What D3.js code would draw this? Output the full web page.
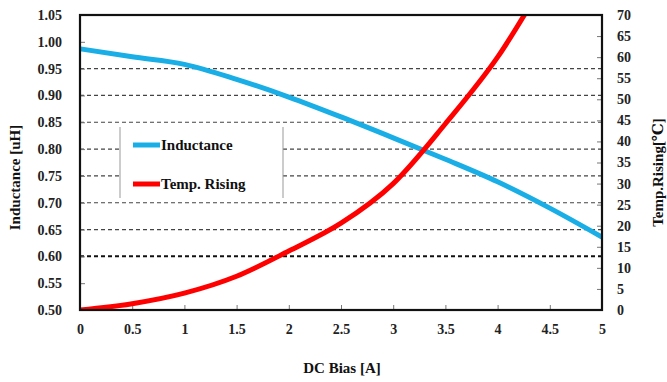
<!DOCTYPE html>
<html>
<head>
<meta charset="utf-8">
<script src="https://cdnjs.cloudflare.com/ajax/libs/d3/7.8.5/d3.min.js"></script>
<style>
  body { margin: 0; background: #fff; }
</style>
</head>
<body>
<div id="chartDiv"></div>
<script>
// data
var dcBias = [0, 0.5, 1, 1.5, 2, 2.5, 3, 3.5, 4, 4.5, 5];
var inductance = [0.987, 0.972, 0.958, 0.930, 0.897, 0.860, 0.821, 0.781, 0.739, 0.690, 0.636];
var tempRising = [0, 1.5, 4.0, 8.0, 14.0, 20.6, 30.0, 44.2, 60.0, 80, 100];
var xTicks = [0, 0.5, 1, 1.5, 2, 2.5, 3, 3.5, 4, 4.5, 5];
var leftTicks = [0.50, 0.55, 0.60, 0.65, 0.70, 0.75, 0.80, 0.85, 0.90, 0.95, 1.00, 1.05];
var rightTicks = [0, 5, 10, 15, 20, 25, 30, 35, 40, 45, 50, 55, 60, 65, 70];
var gridTicks = [0.60, 0.65, 0.70, 0.75, 0.80, 0.85, 0.90, 0.95];
var legendNames = ["Inductance", "Temp. Rising"];
var lineColors = ["#19aee6", "#ff0000"];

var serif = "'Liberation Serif', 'Times New Roman', 'DejaVu Serif', serif";

var svg = d3.select("#chartDiv").append("svg").attr("width", 667).attr("height", 382),
  margin = {top: 15, right: 65, bottom: 72, left: 80},
  width = 667 - margin.left - margin.right,
  height = 382 - margin.top - margin.bottom;

var g = svg.append("g").attr("transform", "translate(" + margin.left + "," + margin.top + ")");

var x = d3.scaleLinear().domain([0, 5]).range([0, width]);
var yL = d3.scaleLinear().domain([0.5, 1.05]).range([height, 0]);
var yR = d3.scaleLinear().domain([0, 70]).range([height, 0]);

// grid lines
g.selectAll(".grid")
  .data(gridTicks)
  .enter().append("line")
  .attr("class", "grid")
  .attr("x1", 0)
  .attr("x2", width)
  .attr("y1", function (d) { return yL(d); })
  .attr("y2", function (d) { return yL(d); })
  .attr("stroke", function (d) { return d < 0.62 ? "#111" : "#444"; })
  .attr("stroke-width", function (d) { return d < 0.62 ? 2 : 1.2; })
  .attr("stroke-dasharray", "4,3");

// axes
var xAxis = g.append("g")
  .attr("transform", "translate(0," + height + ")")
  .call(d3.axisBottom(x).tickValues(xTicks).tickSizeInner(-5).tickSizeOuter(0).tickPadding(14)
    .tickFormat(function (d) { return d; }));

var leftAxis = g.append("g")
  .call(d3.axisLeft(yL).tickValues(leftTicks).tickSizeInner(-5).tickSizeOuter(0).tickPadding(18)
    .tickFormat(d3.format(".2f")));

var rightAxis = g.append("g")
  .attr("transform", "translate(" + width + ",0)")
  .call(d3.axisRight(yR).tickValues(rightTicks).tickSizeInner(-5).tickSizeOuter(0).tickPadding(15));

[xAxis, leftAxis, rightAxis].forEach(function (a) {
  a.attr("font-family", serif);
  a.select(".domain").remove();
  a.selectAll(".tick line").attr("stroke", "#777");
  a.selectAll(".tick text")
    .style("font-family", serif)
    .style("font-weight", "bold")
    .style("font-size", "14px")
    .attr("fill", "#222");
});

// curves
g.append("clipPath").attr("id", "plotClip")
  .append("rect").attr("width", width).attr("height", height);

var indLine = d3.line()
  .x(function (d, i) { return x(dcBias[i]); })
  .y(function (d) { return yL(d); })
  .curve(d3.curveMonotoneX);

var tempLine = d3.line()
  .x(function (d, i) { return x(dcBias[i]); })
  .y(function (d) { return yR(d); })
  .curve(d3.curveMonotoneX);

var curves = g.append("g").attr("clip-path", "url(#plotClip)");

curves.append("path")
  .datum(inductance)
  .attr("d", indLine)
  .attr("fill", "none")
  .attr("stroke", lineColors[0])
  .attr("stroke-width", 5);

curves.append("path")
  .datum(tempRising)
  .attr("d", tempLine)
  .attr("fill", "none")
  .attr("stroke", lineColors[1])
  .attr("stroke-width", 5);

// frame
g.append("rect")
  .attr("width", width)
  .attr("height", height)
  .attr("fill", "none")
  .attr("stroke", "#111")
  .attr("stroke-width", 2.2);

// legend
var lg = g.append("g").attr("transform", "translate(40,112)");
lg.append("rect")
  .attr("width", 163)
  .attr("height", 71)
  .attr("fill", "#fff");
lg.selectAll(".side")
  .data([0, 163])
  .enter().append("line")
  .attr("x1", function (d) { return d; })
  .attr("x2", function (d) { return d; })
  .attr("y1", 0)
  .attr("y2", 71)
  .attr("stroke", "#999")
  .attr("stroke-width", 1);

var item = lg.selectAll(".legend")
  .data(legendNames)
  .enter().append("g")
  .attr("class", "legend")
  .attr("transform", function (d, i) { return "translate(0," + (18 + i * 39) + ")"; });

item.append("line")
  .attr("x1", 13)
  .attr("x2", 40)
  .attr("stroke", function (d, i) { return lineColors[i]; })
  .attr("stroke-width", 5);

item.append("text")
  .attr("x", 41)
  .attr("dy", "0.35em")
  .style("font-family", serif)
  .style("font-weight", "bold")
  .style("font-size", "15px")
  .attr("fill", "#111")
  .text(function (d) { return d; });

// axis titles
function title(sel) {
  return sel.style("text-anchor", "middle")
    .style("font-family", serif)
    .style("font-weight", "bold")
    .style("font-size", "15px")
    .attr("fill", "#111");
}

svg.append("text")
  .attr("transform", "translate(20," + (margin.top + height / 2 + 15) + ") rotate(-90)")
  .call(title)
  .text("Inductance  [uH]");

svg.append("text")
  .attr("transform", "translate(663," + (margin.top + height / 2 + 10) + ") rotate(-90)")
  .call(title)
  .text("Temp.Rising[\u2103]");

svg.append("text")
  .attr("x", margin.left + width / 2 + 1)
  .attr("y", 373)
  .call(title)
  .text("DC Bias [A]");
</script>
</body>
</html>
